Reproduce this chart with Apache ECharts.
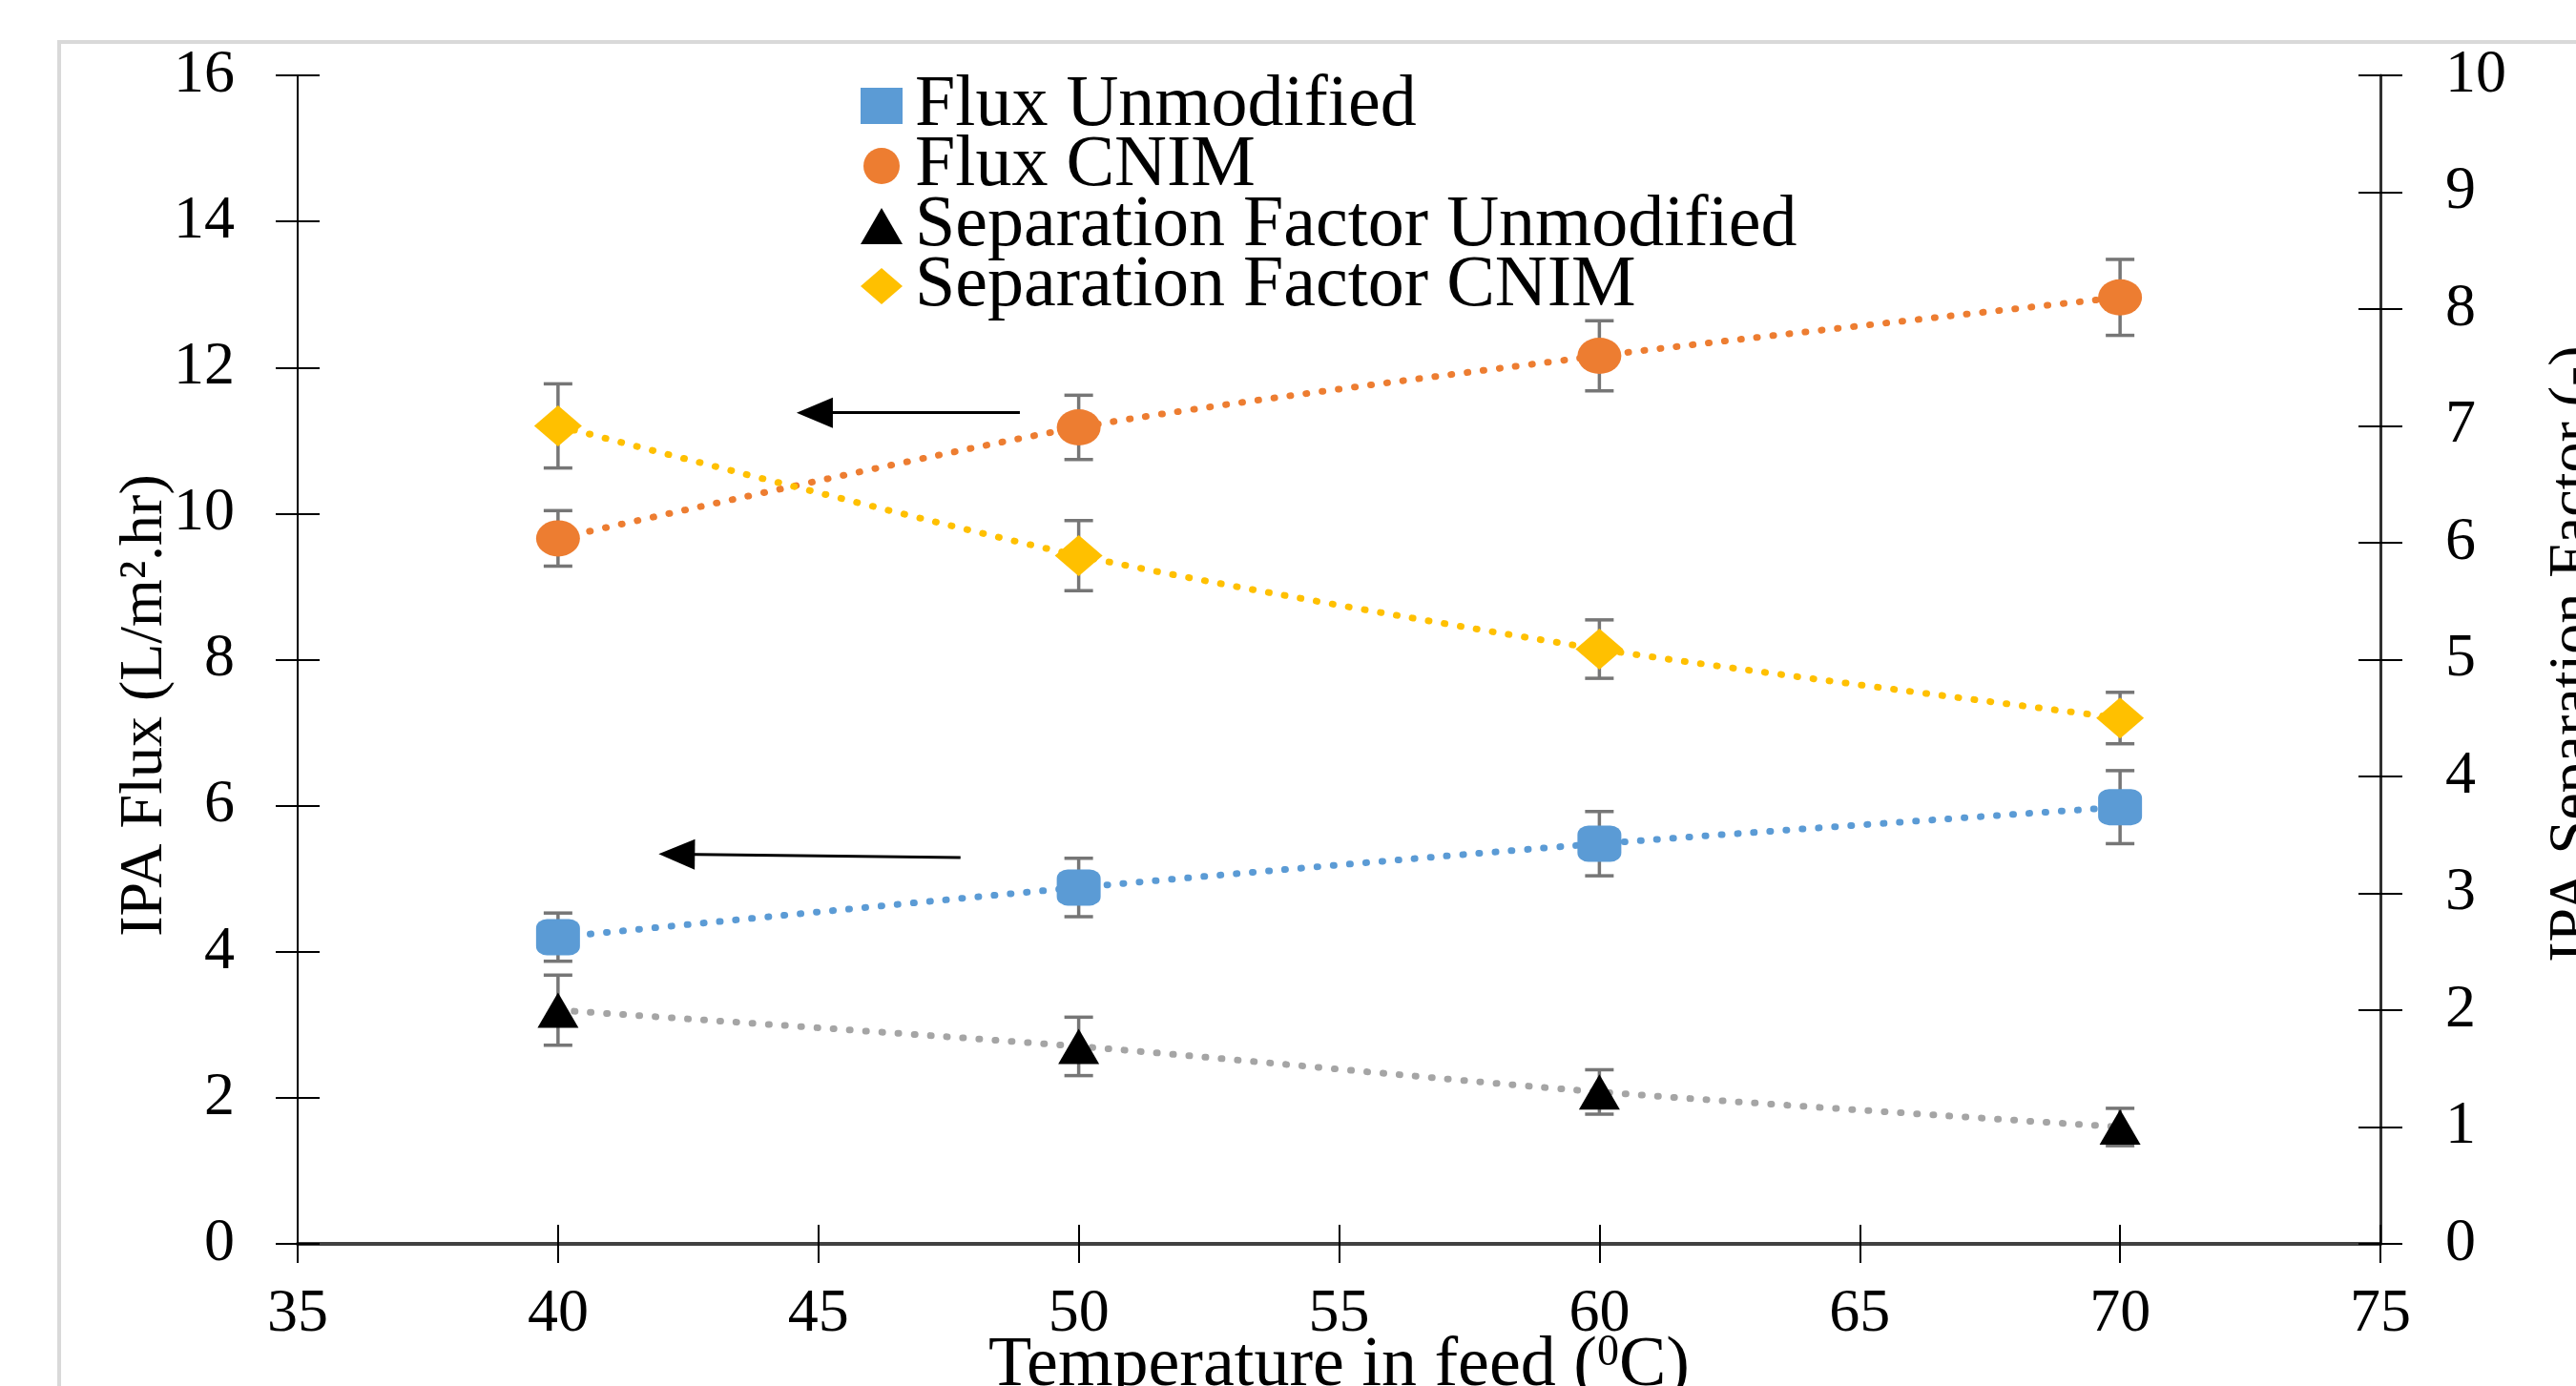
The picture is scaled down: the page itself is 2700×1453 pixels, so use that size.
<!DOCTYPE html>
<html><head><meta charset="utf-8">
<script src="https://cdn.jsdelivr.net/npm/echarts/dist/echarts.min.js"></script>
<style>html,body{margin:0;padding:0;background:#fff}#c{width:2700px;height:1453px}</style>
</head><body><div id="c"></div>
<script>
// ---------- data ----------
const temps = [40, 50, 60, 70];
const fluxUnmodified = [4.2, 4.88, 5.48, 5.98];
const fluxUnmodifiedErr = [0.33, 0.40, 0.44, 0.50];
const fluxCNIM = [9.66, 11.18, 12.16, 12.96];
const fluxCNIMErr = [0.38, 0.44, 0.48, 0.52];
const sepUnmodified = [2.0, 1.69, 1.30, 1.0];
const sepUnmodifiedErr = [0.30, 0.25, 0.19, 0.16];
const sepCNIM = [7.0, 5.89, 5.09, 4.50];
const sepCNIMErr = [0.36, 0.30, 0.25, 0.22];
const seriesNames = ['Flux Unmodified', 'Flux CNIM', 'Separation Factor Unmodified', 'Separation Factor CNIM'];
const xTicks = {min: 35, max: 75, interval: 5};
const fluxTicks = {min: 0, max: 16, interval: 2};
const sepTicks = {min: 0, max: 10, interval: 1};
// annotation arrows (flux axis): [tailX, tailY, headX, headY]
const arrows = [[48.87, 11.38, 44.93, 11.38], [47.73, 5.29, 42.28, 5.335]];

const FONT = "'Liberation Serif','Times New Roman',serif";
const chart = echarts.init(document.getElementById('c'));

function pairs(vals) { return temps.map((t, i) => [t, vals[i]]); }
function errs(vals, e) { return temps.map((t, i) => [t, vals[i] - e[i], vals[i] + e[i]]); }

function errRender(params, api) {
  const x = api.value(0), lo = api.value(1), hi = api.value(2);
  const p1 = api.coord([x, hi]), p2 = api.coord([x, lo]);
  const hw = 15;
  const st = {stroke: '#767676', lineWidth: 3.5};
  return {type: 'group', children: [
    {type: 'line', shape: {x1: p1[0], y1: p1[1], x2: p2[0], y2: p2[1]}, style: st},
    {type: 'line', shape: {x1: p1[0] - hw, y1: p1[1], x2: p1[0] + hw, y2: p1[1]}, style: st},
    {type: 'line', shape: {x1: p2[0] - hw, y1: p2[1], x2: p2[0] + hw, y2: p2[1]}, style: st}
  ]};
}
function errSeries(vals, e, yIdx) {
  return {type: 'custom', yAxisIndex: yIdx, z: 1, silent: true, renderItem: errRender,
    encode: {x: 0, y: [1, 2]}, data: errs(vals, e)};
}
const dotted = [1, 16];
function lineSeries(name, vals, yIdx, color, lineColor, symbol, size) {
  return {type: 'line', name: name, yAxisIndex: yIdx, data: pairs(vals), z: 3,
    smooth: 0.25, symbol: symbol, symbolSize: size, showSymbol: true,
    itemStyle: {color: color, borderWidth: 0},
    lineStyle: {color: lineColor, width: 7, type: dotted, cap: 'round'}};
}
const ellipse = 'path://M0,50A50,50,0,1,1,100,50A50,50,0,1,1,0,50Z';

const s0 = lineSeries(seriesNames[0], fluxUnmodified, 0, '#5B9BD5', '#5B9BD5', 'roundRect', [46, 38]);
const s1 = lineSeries(seriesNames[1], fluxCNIM, 0, '#ED7D31', '#ED7D31', ellipse, [46, 38]);
const s2 = lineSeries(seriesNames[2], sepUnmodified, 1, '#000000', '#A5A5A5', 'triangle', [43, 37]);
const s3 = lineSeries(seriesNames[3], sepCNIM, 1, '#FFC000', '#FFC000', 'diamond', [50, 43]);
s1.markLine = {silent: true, animation: false, symbol: ['none', 'triangle'], symbolSize: [32, 38],
  label: {show: false}, lineStyle: {color: '#000', width: 3, type: 'solid'},
  data: arrows.map(a => [{coord: [a[0], a[1]]}, {coord: [a[2], a[3]]}])};

const axisText = {fontFamily: FONT, fontSize: 64, color: '#000'};
const nameText = {fontFamily: FONT, fontSize: 64, color: '#000'};

const option = {
  backgroundColor: '#fff',
  animation: false,
  graphic: [{type: 'rect', z: -10, shape: {x: 62, y: 44, width: 2700, height: 1500},
    style: {fill: 'none', stroke: '#d9d9d9', lineWidth: 4}}],
  grid: {left: 312, right: 205, top: 79, bottom: 149, containLabel: false, outerBoundsMode: 'none'},
  legend: {
    orient: 'vertical', left: 897, top: 68, itemWidth: 44, itemHeight: 38, itemGap: -13,
    textStyle: {fontFamily: FONT, fontSize: 76, color: '#000', padding: [0, 0, 0, 8]},
    itemStyle: {borderWidth: 0},
    data: [
      {name: seriesNames[0], icon: 'rect'},
      {name: seriesNames[1], icon: 'circle'},
      {name: seriesNames[2], icon: 'triangle'},
      {name: seriesNames[3], icon: 'diamond'}
    ]
  },
  xAxis: [
    {type: 'value', position: 'bottom', min: xTicks.min, max: xTicks.max, interval: xTicks.interval,
      name: 'Temperature in feed ({sup|0}C)', nameLocation: 'middle', nameGap: 92, nameMoveOverlap: false,
      nameTextStyle: {fontFamily: FONT, fontSize: 74, color: '#000',
        rich: {sup: {fontFamily: FONT, fontSize: 46, color: '#000', verticalAlign: 'top', lineHeight: 74}}},
      axisLine: {show: true, lineStyle: {color: '#404040', width: 4}},
      axisTick: {show: true, inside: false, length: 20, lineStyle: {color: '#000', width: 2}},
      axisLabel: Object.assign({margin: 42}, axisText), splitLine: {show: false}},
    {type: 'value', position: 'bottom', min: xTicks.min, max: xTicks.max, interval: xTicks.interval,
      axisLine: {show: false}, axisLabel: {show: false}, splitLine: {show: false},
      axisTick: {show: true, inside: true, length: 20, lineStyle: {color: '#000', width: 2}}}
  ],
  yAxis: [
    {type: 'value', position: 'left', min: fluxTicks.min, max: fluxTicks.max, interval: fluxTicks.interval,
      name: 'IPA Flux (L/m\u00b2.hr)', nameLocation: 'middle', nameGap: 128, nameMoveOverlap: false,
      nameTextStyle: Object.assign({padding: [0, 96, 0, 0]}, nameText),
      axisLine: {show: true, lineStyle: {color: '#000', width: 2}},
      axisTick: {show: true, inside: false, length: 23, lineStyle: {color: '#000', width: 2}},
      axisLabel: Object.assign({margin: 66}, axisText), splitLine: {show: false}},
    {type: 'value', position: 'right', min: sepTicks.min, max: sepTicks.max, interval: sepTicks.interval,
      name: 'IPA Separation Factor (-)', nameLocation: 'middle', nameGap: 171, nameMoveOverlap: false,
      nameTextStyle: Object.assign({padding: [0, 0, 0, 12]}, nameText),
      axisLine: {show: true, lineStyle: {color: '#303030', width: 3}},
      axisTick: {show: true, inside: false, length: 23, lineStyle: {color: '#000', width: 2}},
      axisLabel: Object.assign({margin: 68}, axisText), splitLine: {show: false}},
    {type: 'value', position: 'left', min: fluxTicks.min, max: fluxTicks.max, interval: fluxTicks.interval,
      axisLine: {show: false}, axisLabel: {show: false}, splitLine: {show: false},
      axisTick: {show: true, inside: true, length: 23, lineStyle: {color: '#000', width: 2}}},
    {type: 'value', position: 'right', min: sepTicks.min, max: sepTicks.max, interval: sepTicks.interval,
      axisLine: {show: false}, axisLabel: {show: false}, splitLine: {show: false},
      axisTick: {show: true, inside: true, length: 23, lineStyle: {color: '#000', width: 2}}}
  ],
  series: [
    errSeries(fluxUnmodified, fluxUnmodifiedErr, 0),
    errSeries(fluxCNIM, fluxCNIMErr, 0),
    errSeries(sepUnmodified, sepUnmodifiedErr, 1),
    errSeries(sepCNIM, sepCNIMErr, 1),
    s0, s1, s2, s3
  ]
};
chart.setOption(option);
</script></body></html>
